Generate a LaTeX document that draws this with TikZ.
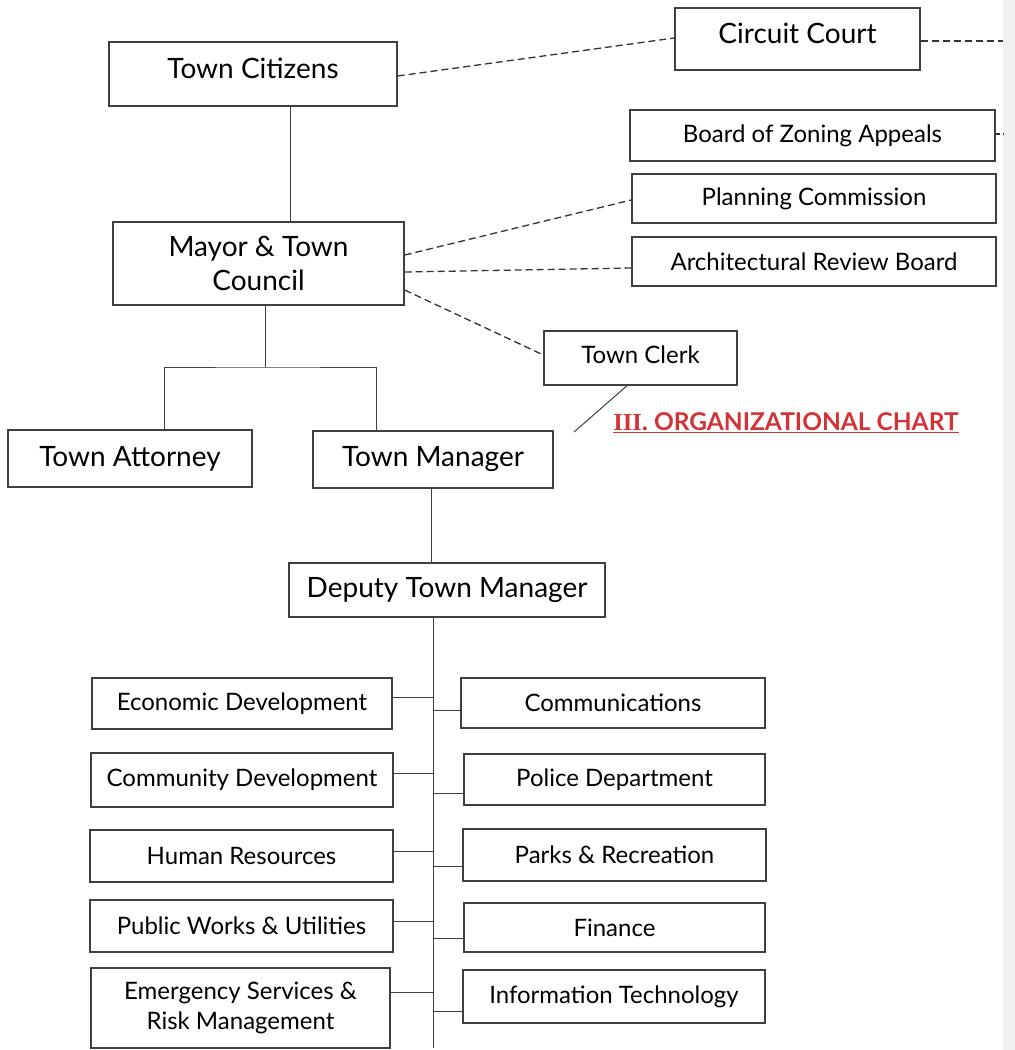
\documentclass[tikz,border=0pt]{standalone}
\usepackage{fontspec}
\setmainfont{Lato}
\newfontfamily\romanfont{Liberation Serif}
\usepackage{tikz}
\definecolor{chartred}{RGB}{209,52,56}
\definecolor{boxline}{RGB}{64,64,64}

\begin{document}
\begin{tikzpicture}[x=1pt,y=-1pt,
        box/.style={draw=boxline,line width=1.4pt,inner sep=0pt,align=center},
        bigbox/.style={box,font=\fontsize{28}{34}\selectfont},
        smallbox/.style={box,font=\fontsize{24}{30}\selectfont},
        link/.style={draw=black!75,line width=1pt},
        dashlink/.style={draw=black!80,line width=1.3pt,dash pattern=on 7pt off 4pt}] % Town organizational chart
        \useasboundingbox (0,0) rectangle (1015,1050);
        \fill[black!6] (1003,0) rectangle (1015,1050);
        % upper part
        \node[bigbox,minimum width=288,minimum height=64,text depth=12pt] (citizens) at (253,74) {Town Citizens};
        \node[bigbox,minimum width=245,minimum height=62,text depth=12pt] (court) at (797.5,39) {Circuit Court};
        \node[smallbox,minimum width=365,minimum height=51] (bza) at (812.5,135.5) {Board of Zoning Appeals};
        \node[smallbox,minimum width=364,minimum height=49] (planning) at (814,198.5) {Planning Commission};
        \node[smallbox,minimum width=364,minimum height=49] (arb) at (814,261.5) {Architectural Review Board};
        \node[bigbox,minimum width=291,minimum height=83] (mayor) at (258.5,263.5) {Mayor \& Town\\Council};
        \node[smallbox,minimum width=193,minimum height=54,text depth=6pt] (clerk) at (640.5,358) {Town Clerk};
        \node[bigbox,minimum width=244,minimum height=57] (attorney) at (130,458.5) {Town Attorney};
        \node[bigbox,minimum width=240,minimum height=57] (manager) at (433,459.5) {Town Manager};
        \node[bigbox,minimum width=316,minimum height=54] (deputy) at (447,590) {Deputy Town Manager};
        \node[font=\fontsize{24.5}{28}\selectfont\bfseries,text=chartred,anchor=base] (title) at (786,430) {\underline{{\romanfont III.} ORGANIZATIONAL CHART}};
        % departments
        \node[smallbox,minimum width=300,minimum height=51] (econ) at (242,703.5) {Economic Development};
        \node[smallbox,minimum width=302,minimum height=54] (commdev) at (242,780) {Community Development};
        \node[smallbox,minimum width=303,minimum height=52] (hr) at (241.5,856) {Human Resources};
        \node[smallbox,minimum width=303,minimum height=52] (works) at (241.5,926) {Public Works \& Utilities};
        \node[smallbox,minimum width=299,minimum height=80] (emergency) at (240.5,1008) {Emergency Services \&\\Risk Management};
        \node[smallbox,minimum width=304,minimum height=50] (comm) at (613,703) {Communications};
        \node[smallbox,minimum width=301,minimum height=51] (police) at (614.5,779.5) {Police Department};
        \node[smallbox,minimum width=303,minimum height=52] (parks) at (614.5,855) {Parks \& Recreation};
        \node[smallbox,minimum width=301,minimum height=49] (finance) at (614.5,927.5) {Finance};
        \node[smallbox,minimum width=302,minimum height=53] (it) at (614,996.5) {Information Technology};
        \coordinate (edgeA) at (1003,41);
        \coordinate (edgeB) at (1003,134);
        \coordinate (split) at (265,367);
        \coordinate (pointer) at (574,432);
        \coordinate (spine) at (433,1048);
        % solid lines
        \draw[link] ([xshift=37]citizens.south) -- ([xshift=37]citizens.south |- mayor.north);
        \draw[link] (mayor.south -| split) -- (split);
        \draw[link] ([xshift=34]attorney.north) |- (split) -| ([xshift=-57]manager.north);
        \draw[link] ([xshift=-2]manager.south) -- ([xshift=-2]manager.south |- deputy.north);
        \draw[link] ([xshift=-13.5]clerk.south) -- (pointer);
        \draw[link] (deputy.south -| spine) -- (spine);
        \draw[link] ([yshift=6.5]econ.east) -- ([yshift=6.5]econ.east -| spine);
        \draw[link] ([yshift=7]commdev.east) -- ([yshift=7]commdev.east -| spine);
        \draw[link] ([yshift=5]hr.east) -- ([yshift=5]hr.east -| spine);
        \draw[link] ([yshift=5]works.east) -- ([yshift=5]works.east -| spine);
        \draw[link] ([yshift=16]emergency.east) -- ([yshift=16]emergency.east -| spine);
        \draw[link] ([yshift=-7]comm.west) -- ([yshift=-7]comm.west -| spine);
        \draw[link] ([yshift=-13.5]police.west) -- ([yshift=-13.5]police.west -| spine);
        \draw[link] ([yshift=-11]parks.west) -- ([yshift=-11]parks.west -| spine);
        \draw[link] ([yshift=-10.5]finance.west) -- ([yshift=-10.5]finance.west -| spine);
        \draw[link] ([yshift=-14.5]it.west) -- ([yshift=-14.5]it.west -| spine);
        % dashed lines
        \draw[dashlink] ([yshift=-2]citizens.east) -- ([yshift=1]court.west);
        \draw[dashlink] ([yshift=-2]court.east) -- (edgeA);
        \draw[dashlink,dash pattern=on 4pt off 3pt] ([yshift=1.5]bza.east) -- (edgeB);
        \draw[dashlink] ([yshift=8.5]mayor.east) -- ([yshift=-1.5]planning.west);
        \draw[dashlink] ([yshift=-8.5]mayor.east) -- ([yshift=-6.5]arb.west);
        \draw[dashlink] ([yshift=-26.5]mayor.east) -- ([yshift=3]clerk.west);
\end{tikzpicture}
\end{document}
